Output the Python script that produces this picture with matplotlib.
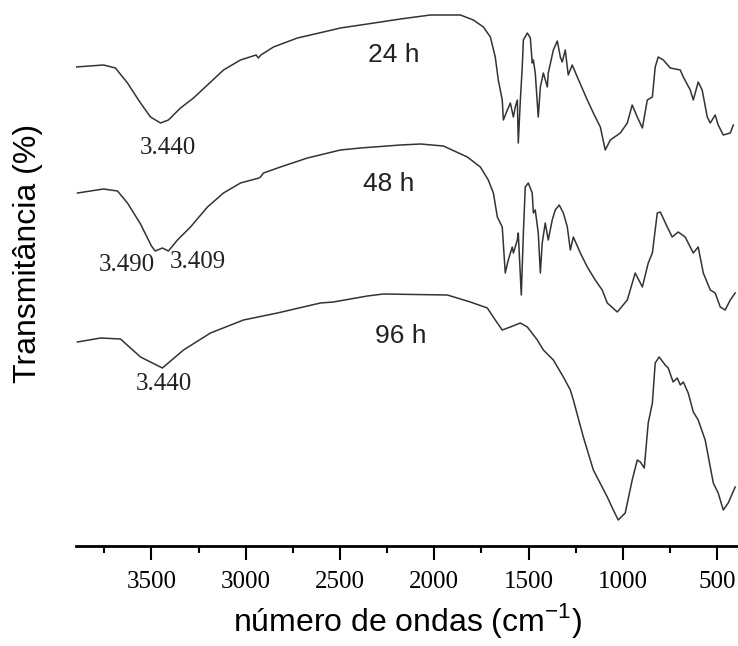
import matplotlib
matplotlib.use("Agg")
import matplotlib.pyplot as plt
from matplotlib.ticker import MultipleLocator

# wavenumber (cm^-1) and transmittance (arbitrary units, curves offset vertically)
wn_24h = [3903, 3754, 3691, 3627, 3558, 3505, 3452, 3410, 3346, 3277, 3203, 3118,
          3028, 2945, 2933, 2920, 2853, 2726, 2588, 2498, 2355, 2180, 2021, 1862,
          1793, 1740, 1703, 1677, 1661,
          1640, 1634, 1613, 1597, 1581, 1571, 1560, 1555, 1544, 1534,
          1528, 1507, 1491, 1481, 1475, 1465, 1449, 1438, 1422, 1401, 1396, 1369,
          1348, 1332, 1322, 1306, 1290, 1269, 1242, 1189, 1157, 1120, 1094, 1067,
          1014, 977, 951, 924, 897, 871, 844, 829, 813, 786, 749, 696, 680, 643,
          627, 601, 580, 553, 537, 511, 495, 468, 431, 415]
t_24h = [482, 484, 481, 466, 446, 432, 426, 429, 441, 451, 464, 479,
         489, 494, 491, 494, 502, 511, 517, 521, 525, 530, 534, 534,
         529, 522, 512, 492, 469,
         449, 429, 439, 446, 432, 442, 449, 406, 449, 482,
         509, 516, 511, 486, 489, 476, 432, 462, 476, 462, 476, 499,
         508, 492, 487, 499, 474, 484, 472, 449, 436, 422, 399, 409,
         416, 426, 444, 432, 421, 449, 452, 482, 492, 489, 481, 479, 472, 459,
         449, 467, 459, 432, 426, 434, 424, 414, 416, 424]

wn_48h = [3892, 3754, 3680, 3627, 3558, 3500, 3480, 3442, 3410, 3362, 3293, 3203,
          3118, 3028, 2930, 2922, 2906, 2816, 2673, 2498, 2392, 2180, 2074, 1952,
          1825, 1756, 1714, 1687, 1666, 1640, 1624, 1608, 1587, 1581, 1560, 1555, 1539,
          1528, 1518, 1502, 1481, 1475, 1465, 1449, 1438, 1428, 1412, 1396, 1375,
          1359, 1338, 1316, 1295, 1279, 1263, 1226, 1189, 1147, 1110, 1083, 1030,
          977, 935, 897, 866, 844, 818, 802, 765, 739, 707, 670, 627, 601, 574,
          537, 511, 484, 458, 431, 405]
t_48h = [356, 360, 358, 346, 325, 303, 298, 301, 298, 309, 322, 342,
         356, 366, 371, 372, 376, 382, 391, 399, 401, 404, 405, 403,
         392, 382, 369, 356, 332, 322, 276, 289, 302, 296, 309, 316, 254,
         316, 362, 366, 356, 336, 339, 316, 276, 306, 326, 309, 329,
         339, 344, 336, 322, 299, 312, 296, 282, 269, 259, 246, 237,
         249, 276, 262, 286, 296, 336, 337, 322, 312, 317, 312, 296, 302, 276,
         259, 256, 242, 239, 249, 256]

wn_96h = [3892, 3770, 3664, 3558, 3442, 3330, 3187, 3012, 2832, 2604, 2535, 2355,
          2270, 1931, 1809, 1719, 1677, 1640, 1597, 1544, 1507, 1454, 1422, 1369,
          1316, 1279, 1263, 1210, 1157, 1083, 1051, 1025, 988, 951, 924, 908, 887, 866,
          844, 829, 808, 776, 760, 734, 712, 696, 680, 654, 627, 601, 564, 521,
          495, 468, 442, 405]
t_96h = [207, 211, 210, 192, 181, 199, 216, 229, 236, 246, 247, 253,
         255, 254, 247, 241, 229, 219, 222, 226, 222, 209, 199, 189,
         172, 159, 149, 112, 79, 52, 39, 29, 36, 69, 89, 87, 81, 126,
         146, 186, 192, 184, 181, 167, 171, 164, 167, 156, 137, 129, 109, 66,
         56, 39, 46, 62]

series_labels = ["24 h", "48 h", "96 h"]
series_label_pos = [(2217, 494), (2244, 365), (2180, 213)]
peak_labels = ["3.440", "3.490", "3.409", "3.440"]
peak_label_pos = [(3415, 401), (3633, 284), (3256, 287), (3436, 165)]
xticks = [3500, 3000, 2500, 2000, 1500, 1000, 500]

fig = plt.figure(figsize=(7.38, 6.46), dpi=100)
ax = fig.add_axes([76 / 738, 100 / 646, 662 / 738, 546 / 646])

for wn, t in [(wn_24h, t_24h), (wn_48h, t_48h), (wn_96h, t_96h)]:
    ax.plot(wn, t, color="#333333", lw=1.1, solid_joinstyle="round")

for lab, (x, y) in zip(series_labels, series_label_pos):
    ax.text(x, y, lab, ha="center", va="center", fontsize=19,
            family="Liberation Sans", color="#222222")
for lab, (x, y) in zip(peak_labels, peak_label_pos):
    ax.text(x, y, lab, ha="center", va="center", fontsize=18,
            family="Liberation Serif", color="#222222")

ax.set_xlim(3900, 390)
ax.set_ylim(3, 549)
ax.set_xticks(xticks)
ax.set_xticklabels([str(v) for v in xticks], family="Liberation Serif", fontsize=18)
ax.xaxis.set_minor_locator(MultipleLocator(250))
ax.tick_params(axis="x", which="major", direction="out", length=10, width=1.5, pad=8)
ax.tick_params(axis="x", which="minor", direction="out", length=5, width=1.5)
ax.set_yticks([])
for s in ["top", "left", "right"]:
    ax.spines[s].set_visible(False)
ax.spines["bottom"].set_linewidth(2)

ax.set_xlabel("número de ondas (cm$^{\\mathregular{-1}}$)", fontsize=23,
              family="Liberation Sans", labelpad=6)
fig.text(28 / 738, 1 - 253 / 646, "Transmitância (%)", rotation=90, ha="center",
         va="center", fontsize=23, family="Liberation Sans")

fig.savefig("out.png", dpi=100)
